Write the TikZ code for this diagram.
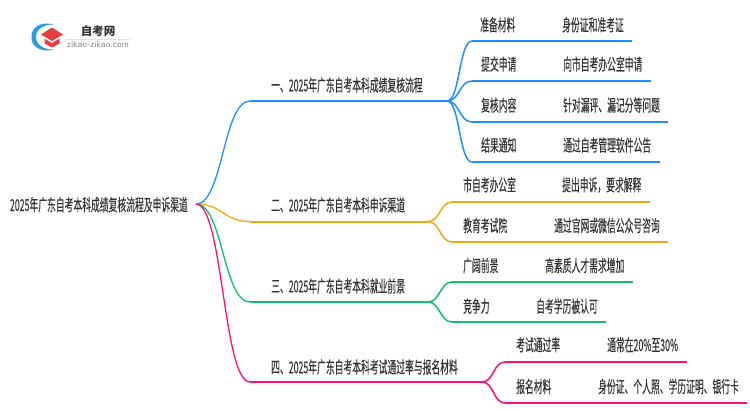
\documentclass[tikz,border=0pt]{standalone}
\usepackage{fontspec}
\usepackage{xcolor}
\usetikzlibrary{positioning}
\setmainfont{Noto Sans CJK SC}
\newfontfamily\cjk[FakeStretch=0.533,FakeBold=0.15]{Noto Sans CJK SC}
\newfontfamily\latn[LetterSpace=4]{Liberation Sans}
\definecolor{blueline}{HTML}{1E8FFF}
\definecolor{orangeline}{HTML}{F5A70F}
\definecolor{greenline}{HTML}{0FBF72}
\definecolor{pinkline}{HTML}{FF0F78}
\definecolor{textcol}{HTML}{333333}
\definecolor{logoblue}{HTML}{2A9BE0}
\definecolor{logored}{HTML}{E5403F}

\begin{document}
\begin{tikzpicture}[x=1pt,y=-1pt,main/.style={inner sep=0pt,text height=11pt,text depth=3pt,text=textcol,font=\fontsize{16.5pt}{16.5pt}\cjk},
curve/.style={line width=1.3pt},leafcurve/.style={line width=1.5pt},bar/.style={line width=2pt}]
\useasboundingbox (0,0) rectangle (750,410);

% logo
\fill[logoblue] (54,24.5) .. controls (40,21) and (31,28) .. (31.5,37) .. controls (31,46) and (40,53) .. (54,49.5) .. controls (44,50) and (36,45) .. (36,37) .. controls (36,29) and (44,24) .. (54,24.5);
\fill[logored] (52,27.5) -- (63,34.5) -- (52,41) -- (41,34.5) -- cycle;
\fill[logored] (44.5,38.5) -- (52,43) -- (59.5,38.5) -- (59.5,43.5) -- (52,47.5) -- (44.5,43.5) -- cycle;
\node[inner sep=0pt,text=textcol,font=\fontsize{11.5pt}{12pt}\selectfont\bfseries] (logo1) at (98,31) {自考网};
\node[inner sep=0pt,text=gray,font=\fontsize{8pt}{8pt}\latn] (logo2) at (98,45) {zikao-zikao.com};
\draw[line width=0.4pt,black!12] (66,39) -- (130,39);

% root
\node[main,anchor=east,inner xsep=8pt] (0) at (196,207) {2025年广东自考本科成绩复核流程及申诉渠道};
\coordinate (0r) at (196,204);

% branches
\coordinate (1a) at (250,101);
\coordinate (1b) at (447,101);
\coordinate (2a) at (250,221.5);
\coordinate (2b) at (428,221.5);
\coordinate (3a) at (250,302);
\coordinate (3b) at (428,302);
\coordinate (4a) at (250,382);
\coordinate (4b) at (482,382);

\draw[curve,blueline] (0r) .. controls (223,204) and (223,101) .. (1a);
\draw[curve,orangeline] (0r) .. controls (223,204) and (223,221.5) .. (2a);
\draw[curve,greenline] (0r) .. controls (223,204) and (223,302) .. (3a);
\draw[curve,pinkline] (0r) .. controls (223,204) and (223,382) .. (4a);
\draw[bar,blueline] (1a) -- (1b);
\draw[bar,orangeline] (2a) -- (2b);
\draw[bar,greenline] (3a) -- (3b);
\draw[bar,pinkline] (4a) -- (4b);

\node[main] (1) [above right=6.5pt and 21pt of 1a] {一、2025年广东自考本科成绩复核流程};
\node[main] (2) [above right=7pt and 21pt of 2a] {二、2025年广东自考本科申诉渠道};
\node[main] (3) [above right=6.5pt and 21pt of 3a] {三、2025年广东自考本科就业前景};
\node[main] (4) [above right=5.5pt and 21pt of 4a] {四、2025年广东自考本科考试通过率与报名材料};

% leaves
\coordinate (11a) at (472,41);
\coordinate (11b) at (632,41);
\coordinate (12a) at (472,81);
\coordinate (12b) at (651,81);
\coordinate (13a) at (472,122);
\coordinate (13b) at (668,122);
\coordinate (14a) at (472,162);
\coordinate (14b) at (660,162);
\coordinate (21a) at (452,202);
\coordinate (21b) at (650,202);
\coordinate (22a) at (452,242);
\coordinate (22b) at (668,242);
\coordinate (31a) at (452,282);
\coordinate (31b) at (633,282);
\coordinate (32a) at (452,322);
\coordinate (32b) at (606,322);
\coordinate (41a) at (505,362);
\coordinate (41b) at (687,362);
\coordinate (42a) at (505,403);
\coordinate (42b) at (747,403);

\draw[leafcurve,blueline] (1b) .. controls (460,101) and (459,41) .. (11a);
\draw[leafcurve,blueline] (1b) .. controls (460,101) and (459,81) .. (12a);
\draw[leafcurve,blueline] (1b) .. controls (460,101) and (459,122) .. (13a);
\draw[leafcurve,blueline] (1b) .. controls (460,101) and (459,162) .. (14a);
\draw[leafcurve,orangeline] (2b) .. controls (440,221.5) and (440,202) .. (21a);
\draw[leafcurve,orangeline] (2b) .. controls (440,221.5) and (440,242) .. (22a);
\draw[leafcurve,greenline] (3b) .. controls (440,302) and (440,282) .. (31a);
\draw[leafcurve,greenline] (3b) .. controls (440,302) and (440,322) .. (32a);
\draw[leafcurve,pinkline] (4b) .. controls (494,382) and (493,362) .. (41a);
\draw[leafcurve,pinkline] (4b) .. controls (494,382) and (493,403) .. (42a);

\draw[bar,blueline] (11a) -- (11b);
\draw[bar,blueline] (12a) -- (12b);
\draw[bar,blueline] (13a) -- (13b);
\draw[bar,blueline] (14a) -- (14b);
\draw[bar,orangeline] (21a) -- (21b);
\draw[bar,orangeline] (22a) -- (22b);
\draw[bar,greenline] (31a) -- (31b);
\draw[bar,greenline] (32a) -- (32b);
\draw[bar,pinkline] (41a) -- (41b);
\draw[bar,pinkline] (42a) -- (42b);

\node[main] (11) [above right=6.7pt and 8pt of 11a] {准备材料};
\node[main] (111) [above right=6.7pt and 90pt of 11a] {身份证和准考证};
\node[main] (12) [above right=7.4pt and 9pt of 12a] {提交申请};
\node[main] (121) [above right=7.4pt and 91pt of 12a] {向市自考办公室申请};
\node[main] (13) [above right=7.4pt and 9pt of 13a] {复核内容};
\node[main] (131) [above right=7.4pt and 91pt of 13a] {针对漏评、漏记分等问题};
\node[main] (14) [above right=7.4pt and 9pt of 14a] {结果通知};
\node[main] (141) [above right=7.4pt and 91pt of 14a] {通过自考管理软件公告};
\node[main] (21) [above right=7.7pt and 11pt of 21a] {市自考办公室};
\node[main] (211) [above right=7.7pt and 110pt of 21a] {提出申诉，要求解释};
\node[main] (22) [above right=7pt and 11pt of 22a] {教育考试院};
\node[main] (221) [above right=7pt and 102pt of 22a] {通过官网或微信公众号咨询};
\node[main] (31) [above right=7pt and 11pt of 31a] {广阔前景};
\node[main] (311) [above right=7pt and 93pt of 31a] {高素质人才需求增加};
\node[main] (32) [above right=6.3pt and 11pt of 32a] {竞争力};
\node[main] (321) [above right=6.3pt and 84pt of 32a] {自考学历被认可};
\node[main] (41) [above right=7.7pt and 11pt of 41a] {考试通过率};
\node[main] (411) [above right=7.7pt and 102pt of 41a] {通常在20\%至30\%};
\node[main] (42) [above right=7pt and 11pt of 42a] {报名材料};
\node[main] (421) [above right=7pt and 93pt of 42a] {身份证、个人照、学历证明、银行卡};
\end{tikzpicture}
\end{document}
